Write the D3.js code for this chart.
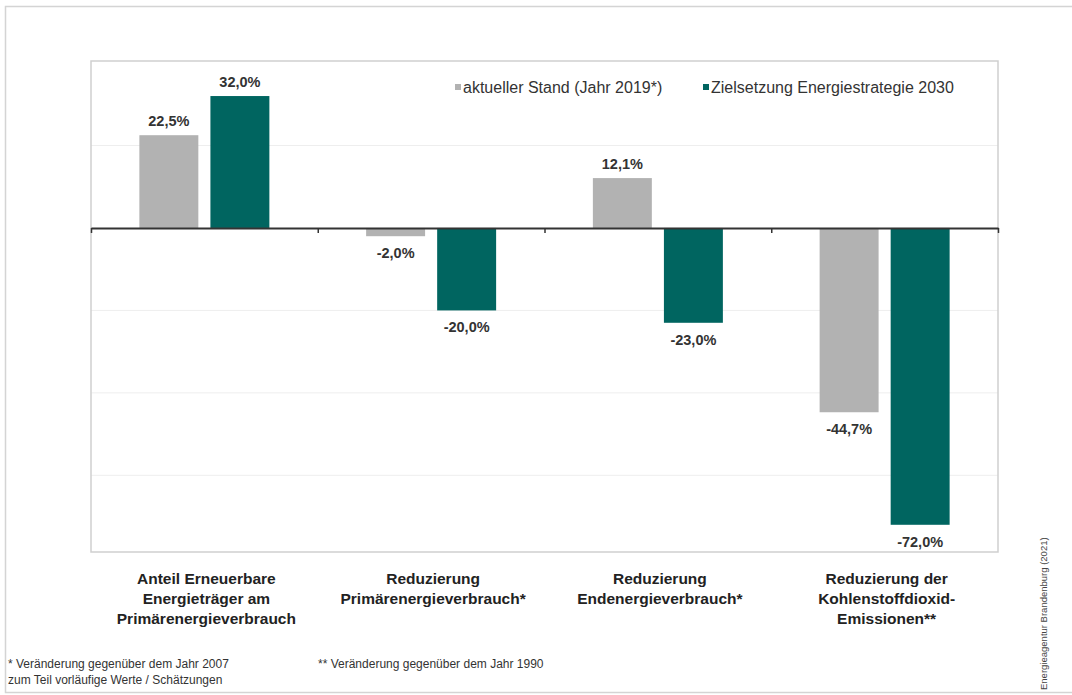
<!DOCTYPE html>
<html lang="de">
<head>
<meta charset="UTF-8">
<title>Energiestrategie 2030</title>
<script src="https://cdn.jsdelivr.net/npm/d3@7"></script>
<style>
  body { margin: 0; background: #fff; }
  text { font-family: "Liberation Sans", Arial, sans-serif; }
</style>
</head>
<body>
<svg class="svg"></svg>
<script>
const categories = [
  ["Anteil Erneuerbare", "Energieträger am", "Primärenergieverbrauch"],
  ["Reduzierung", "Primärenergieverbrauch*"],
  ["Reduzierung", "Endenergieverbrauch*"],
  ["Reduzierung der", "Kohlenstoffdioxid-", "Emissionen**"]
];
const seriesNames = ["aktueller Stand (Jahr 2019*)", "Zielsetzung Energiestrategie 2030"];
const stand2019 = [22.5, -2.0, 12.1, -44.7];
const ziel2030 = [32.0, -20.0, -23.0, -72.0];
const gridTicks = [20, -20, -40, -60];
const colors = ["#b2b2b2", "#006560"];

const w = 1072, h = 695;
const pLeft = 91, pRight = 998, pTop = 61, pBottom = 552;

const svg = d3.select(".svg").attr("width", w).attr("height", h);

// outer frame
svg.append("rect").attr("x", 5.5).attr("y", 6.5).attr("width", 1080).attr("height", 686)
  .attr("fill", "none").attr("stroke", "#d4d4d4").attr("stroke-width", 1.5);

const x = d3.scaleBand().domain(d3.range(categories.length)).range([pLeft, pRight]);
const xs = d3.scaleBand().domain([0, 1]).range([0, 130]).paddingInner(0.17);
const y = d3.scaleLinear().domain([-78.6, 40.5]).range([pBottom, pTop]);

// grid
svg.append("g").selectAll("line").data(gridTicks).enter().append("line")
  .attr("x1", pLeft).attr("x2", pRight)
  .attr("y1", d => y(d)).attr("y2", d => y(d))
  .attr("stroke", "#eeeeee").attr("stroke-width", 1);

// plot border
svg.append("rect").attr("x", pLeft).attr("y", pTop).attr("width", pRight - pLeft).attr("height", pBottom - pTop)
  .attr("fill", "none").attr("stroke", "#cfcfcf").attr("stroke-width", 1.5);

const data = categories.map((c, i) => [stand2019[i], ziel2030[i]]);

const groups = svg.append("g").selectAll("g").data(data).enter().append("g")
  .attr("transform", (d, i) => "translate(" + (x(i) + (x.bandwidth() - 130) / 2) + ",0)");

groups.selectAll("rect").data(d => d).enter().append("rect")
  .attr("x", (d, j) => xs(j))
  .attr("width", xs.bandwidth())
  .attr("y", d => Math.min(y(d), y(0)))
  .attr("height", d => Math.abs(y(d) - y(0)))
  .attr("fill", (d, j) => colors[j]);

const fmt = v => v.toFixed(1).replace(".", ",") + "%";
groups.selectAll("text").data(d => d).enter().append("text")
  .attr("x", (d, j) => xs(j) + xs.bandwidth() / 2)
  .attr("y", d => d >= 0 ? y(d) - 9 : y(d) + 22)
  .attr("text-anchor", "middle")
  .attr("font-size", 14.5).attr("font-weight", "bold").attr("fill", "#333")
  .text(d => fmt(d));

// zero axis with ticks
const xAxis = d3.axisBottom(d3.scaleLinear().domain([0, 4]).range([pLeft, pRight]))
  .tickValues([0, 1, 2, 3, 4]).tickSize(5).tickSizeOuter(0).tickFormat("");
const ax = svg.append("g").attr("transform", "translate(0," + y(0) + ")").call(xAxis);
ax.select(".domain").attr("stroke", "#333").attr("stroke-width", 2);
ax.selectAll(".tick line").attr("stroke", "#333").attr("stroke-width", 1.5);

// category labels
const cat = svg.append("g").selectAll("text").data(categories).enter().append("text")
  .attr("x", (d, i) => x(i) + x.bandwidth() / 2 + 2)
  .attr("y", 584)
  .attr("text-anchor", "middle")
  .attr("font-size", 15.5).attr("font-weight", "bold").attr("fill", "#222");
cat.selectAll("tspan").data(d => d).enter().append("tspan")
  .attr("x", function () { return d3.select(this.parentNode).attr("x"); })
  .attr("dy", (d, k) => k === 0 ? 0 : 20)
  .text(d => d);

// legend
const legendX = [455, 703];
const lg = svg.append("g").selectAll("g").data(seriesNames).enter().append("g")
  .attr("transform", (d, i) => "translate(" + legendX[i] + ",88)");
lg.append("rect").attr("x", 0).attr("y", -4).attr("width", 6).attr("height", 6)
  .attr("fill", (d, i) => colors[i]);
lg.append("text").attr("x", 8).attr("y", 5)
  .attr("font-size", 16).attr("fill", "#333").text(d => d);

// footnotes
const notes = svg.append("g").attr("font-size", 12).attr("fill", "#333");
notes.append("text").attr("x", 8).attr("y", 668).text("* Veränderung gegenüber dem Jahr 2007");
notes.append("text").attr("x", 8).attr("y", 684).text("zum Teil vorläufige Werte / Schätzungen");
notes.append("text").attr("x", 318).attr("y", 668).text("** Veränderung gegenüber dem Jahr 1990");

// source
svg.append("text").attr("transform", "translate(1047,690) rotate(-90)")
  .attr("font-size", 9.5).attr("fill", "#444")
  .text("Energieagentur Brandenburg (2021)");
</script>
</body>
</html>
